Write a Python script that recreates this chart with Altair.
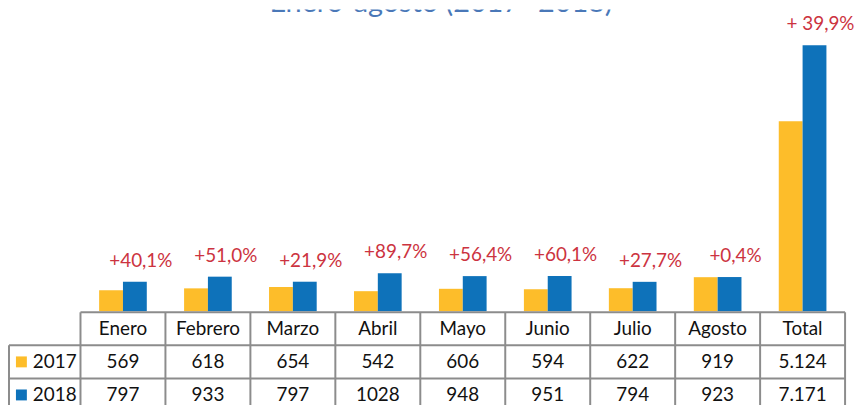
import altair as alt
import pandas as pd

# ---- data ----
categories = ["Enero", "Febrero", "Marzo", "Abril", "Mayo", "Junio", "Julio", "Agosto", "Total"]
values_2017 = [569, 618, 654, 542, 606, 594, 622, 919, 5124]
values_2018 = [797, 933, 797, 1028, 948, 951, 794, 923, 7171]
changes = ["+40,1%", "+51,0%", "+21,9%", "+89,7%", "+56,4%", "+60,1%", "+27,7%", "+0,4%", "+ 39,9%"]
years = ["2017", "2018"]
title_text = "Enero-agosto  (2017- 2018)"

# ---- style ----
YELLOW = "#FDBD2A"
BLUE = "#0E72BA"
RED = "#CC3340"
GRID = "#8C8C8C"
TITLE_C = "#4A78B8"
FONT = "Lato"
TFS = 19

n = len(categories)
COL_PX = 85.56
LEFT_COL_PX = 72
x_min = -LEFT_COL_PX / COL_PX
W = 842
TOP_H = 304
ROW_H = 33.3
BAR_W = 24 / COL_PX
Y_MAX = 8135

xscale = alt.Scale(domain=[x_min, n], nice=False, zero=False)

# bars
bar_rows = []
for i, c in enumerate(categories):
    center = i + 0.5
    bar_rows.append({"cat": c, "year": "2017", "x": center - BAR_W, "x2": center, "v": values_2017[i]})
    bar_rows.append({"cat": c, "year": "2018", "x": center, "x2": center + BAR_W, "v": values_2018[i]})
bars_df = pd.DataFrame(bar_rows)

color = alt.Color("year:N", scale=alt.Scale(domain=years, range=[YELLOW, BLUE]), legend=None)
yscale = alt.Scale(domain=[0, Y_MAX], nice=False, zero=True)

bars = alt.Chart(bars_df).mark_rect().encode(
    x=alt.X("x:Q", scale=xscale, axis=None),
    x2="x2:Q",
    y=alt.Y("v:Q", scale=yscale, axis=None),
    y2=alt.datum(0),
    color=color,
)

lab_df = pd.DataFrame({
    "x": [i + 0.5 for i in range(n)],
    "v": [max(a, b) for a, b in zip(values_2017, values_2018)],
    "t": changes,
})
labels = alt.Chart(lab_df).mark_text(
    dx=18, dy=-21, color=RED, fontSize=19, font=FONT, baseline="middle", align="center"
).encode(
    x=alt.X("x:Q", scale=xscale, axis=None),
    y=alt.Y("v:Q", scale=yscale, axis=None),
    text="t:N",
)

title = alt.Chart(pd.DataFrame({"t": [title_text]})).mark_text(
    clip=True, color=TITLE_C, fontSize=29, font=FONT, baseline="alphabetic", align="center"
).encode(
    x=alt.value(435),
    y=alt.value(3),
    text="t:N",
)

top = alt.layer(bars, labels, title).properties(width=W, height=TOP_H)

# ---- table ----
ROWS = 3
line_rows = []
line_rows.append({"x": 0, "x2": n, "y": 0, "y2": 0})
for r in range(1, ROWS + 1):
    line_rows.append({"x": x_min, "x2": n, "y": r, "y2": r})
for k in range(0, n + 1):
    line_rows.append({"x": k, "x2": k, "y": 0, "y2": ROWS})
line_rows.append({"x": x_min, "x2": x_min, "y": 1, "y2": ROWS})
lines_df = pd.DataFrame(line_rows)

tyscale = alt.Scale(domain=[0, ROWS], nice=False, zero=False, reverse=True)

lines = alt.Chart(lines_df).mark_rule(color=GRID, strokeWidth=2).encode(
    x=alt.X("x:Q", scale=xscale, axis=None),
    x2="x2:Q",
    y=alt.Y("y:Q", scale=tyscale, axis=None),
    y2="y2:Q",
)


def fmt(v, c):
    return f"{v:,}".replace(",", ".") if c == "Total" else str(v)


cell_rows = []
for i, c in enumerate(categories):
    cell_rows.append({"x": i + 0.5, "y": 0.5, "t": c})
    cell_rows.append({"x": i + 0.5, "y": 1.5, "t": fmt(values_2017[i], c)})
    cell_rows.append({"x": i + 0.5, "y": 2.5, "t": fmt(values_2018[i], c)})
cells_df = pd.DataFrame(cell_rows)

cells = alt.Chart(cells_df).mark_text(
    fontSize=TFS, font=FONT, color="#111111", baseline="middle", align="center"
).encode(
    x=alt.X("x:Q", scale=xscale, axis=None),
    y=alt.Y("y:Q", scale=tyscale, axis=None),
    text="t:N",
)

rowlab_df = pd.DataFrame({"year": years, "x": [x_min, x_min], "y": [1.5, 2.5]})
rowlab = alt.Chart(rowlab_df).mark_text(
    dx=24, fontSize=TFS, font=FONT, color="#111111", baseline="middle", align="left"
).encode(
    x=alt.X("x:Q", scale=xscale, axis=None),
    y=alt.Y("y:Q", scale=tyscale, axis=None),
    text="year:N",
)

sq_df = pd.DataFrame({"year": years, "x": [x_min + 12.5 / COL_PX] * 2, "y": [1.5, 2.5]})
squares = alt.Chart(sq_df).mark_square(size=121, opacity=1, filled=True).encode(
    x=alt.X("x:Q", scale=xscale, axis=None),
    y=alt.Y("y:Q", scale=tyscale, axis=None),
    color=color,
)

bottom = alt.layer(lines, cells, rowlab, squares).properties(width=W, height=ROWS * ROW_H)

chart = alt.vconcat(top, bottom, spacing=0).properties(padding=0).configure_view(stroke=None)

chart.save("out.html", embed_options={"renderer": "svg", "actions": False})
